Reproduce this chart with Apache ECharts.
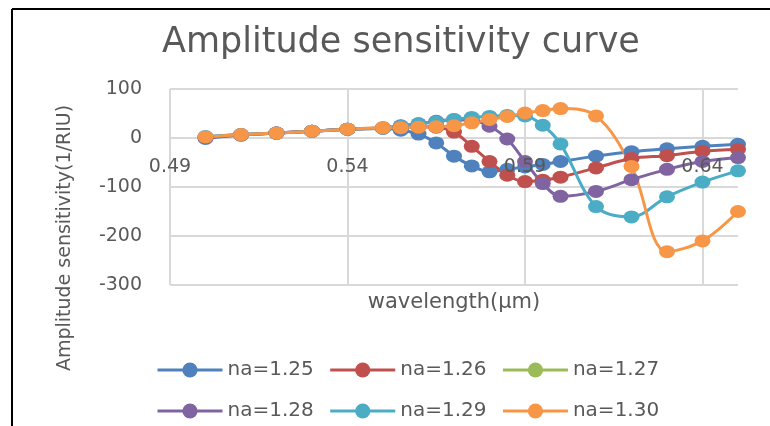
<!DOCTYPE html>
<html>
<head>
<meta charset="utf-8">
<script src="https://cdn.jsdelivr.net/npm/echarts@6/dist/echarts.min.js"></script>
<style>
  html, body { margin: 0; padding: 0; background: #fff; }
  #chart { width: 770px; height: 426px; }
</style>
</head>
<body>
<div id="chart"></div>
<script>
// Wavelength samples (µm)
const wavelength = [0.50, 0.51, 0.52, 0.53, 0.54, 0.55, 0.555, 0.56, 0.565, 0.57, 0.575,
                    0.58, 0.585, 0.59, 0.595, 0.60, 0.61, 0.62, 0.63, 0.64, 0.65];

// Amplitude sensitivity (1/RIU) for each analyte index
const na125 = [-1, 6, 10, 14, 18, 20, 16, 8, -10, -37, -57, -69, -64, -59, -54, -48, -37, -28, -22, -17, -13];
const na126 = [1, 6, 10, 14, 18, 20, 22, 23, 22, 12, -17, -48, -76, -89, -86, -80, -61, -42, -36, -27, -23];
const na127 = [];
const na128 = [2, 7, 10, 14, 18, 21, 25, 29, 34, 37, 36, 24, -2, -48, -93, -119, -109, -85, -64, -48, -40];
const na129 = [3, 7, 10, 14, 18, 20, 24, 29, 33, 38, 42, 44, 46, 45, 26, -12, -140, -161, -120, -90, -67];
const na130 = [2, 7, 10, 14, 18, 21, 21, 22, 23, 25, 31, 38, 44, 51, 56, 60, 45, -58, -232, -210, -150];

const seriesNames = ['na=1.25', 'na=1.26', 'na=1.27', 'na=1.28', 'na=1.29', 'na=1.30'];
const seriesValues = [na125, na126, na127, na128, na129, na130];
const seriesColors = ['#4F81BD', '#C0504D', '#9BBB59', '#8064A2', '#4BACC6', '#F79646'];

// x axis starts at 0.49 with a 0.05 step; values are plotted relative to it
const X0 = 0.49;
const X_MAX = 0.65;
const X_STEP = 0.05;
const Y_MIN = -300, Y_MAX = 100, Y_STEP = 100;

const FONT = 'DejaVu Sans';
const GREY = '#595959';
const GRID_COLOR = '#D9D9D9';

const chart = echarts.init(document.getElementById('chart'));

const series = seriesNames.map((name, k) => ({
  name: name,
  type: 'line',
  xAxisIndex: 0,
  yAxisIndex: 0,
  data: seriesValues[k].map((v, i) => [wavelength[i] - X0, v]),
  smooth: 0.35,
  symbol: 'circle',
  symbolSize: [16, 13],
  lineStyle: { width: 3, color: seriesColors[k] },
  itemStyle: { color: seriesColors[k] },
  emphasis: { disabled: true },
  z: 2
}));

const legendBase = {
  itemWidth: 65,
  itemHeight: 19,
  itemGap: 15,
  lineStyle: { width: 3 },
  textStyle: { fontFamily: FONT, fontSize: 20, color: GREY },
  selectedMode: false
};

chart.setOption({
  animation: false,
  backgroundColor: '#ffffff',
  color: seriesColors,
  title: {
    text: 'Amplitude sensitivity curve',
    left: 157,
    top: 20,
    textStyle: { fontFamily: FONT, fontSize: 35, fontWeight: 'normal', color: GREY }
  },
  legend: [
    Object.assign({}, legendBase, { left: 151, top: 355, data: seriesNames.slice(0, 3) }),
    Object.assign({}, legendBase, { left: 151, top: 396, data: seriesNames.slice(3, 6) })
  ],
  grid: { left: 170, right: 32, top: 89, bottom: 141, containLabel: false, outerBoundsMode: 'none' },
  xAxis: [
    {
      // tick labels sit just under the zero line, on a layer above the curves
      type: 'value',
      position: 'bottom',
      min: 0,
      max: X_MAX - X0,
      interval: X_STEP,
      zlevel: 1,
      z: 10,
      axisLine: { show: false, onZero: false },
      axisTick: { show: false },
      splitLine: { show: false },
      axisLabel: {
        show: true,
        margin: -127,
        showMaxLabel: false,
        fontFamily: FONT,
        fontSize: 19,
        color: GREY,
        formatter: v => (v + X0).toFixed(2)
      },
      name: 'wavelength(μm)',
      nameLocation: 'middle',
      nameGap: 7,
      nameTextStyle: { fontFamily: FONT, fontSize: 21, color: GREY, verticalAlign: 'top' }
    },
    {
      // vertical grid lines
      type: 'value',
      position: 'bottom',
      min: 0,
      max: X_MAX - X0,
      interval: X_STEP,
      z: 0,
      axisLine: { show: false, onZero: false },
      axisTick: { show: false },
      axisLabel: { show: false },
      splitLine: { show: true, showMaxLine: false, lineStyle: { color: GRID_COLOR, width: 2 } }
    }
  ],
  yAxis: {
    type: 'value',
    min: Y_MIN,
    max: Y_MAX,
    interval: Y_STEP,
    axisLine: { show: false, onZero: false },
    axisTick: { show: false },
    splitLine: { show: true, lineStyle: { color: GRID_COLOR, width: 2 } },
    axisLabel: { margin: 28, fontFamily: FONT, fontSize: 19, color: GREY }
  },
  graphic: [
    {
      type: 'text',
      x: 65,
      y: 238,
      rotation: Math.PI / 2,
      style: {
        text: 'Amplitude sensitivity(1/RIU)',
        fontFamily: FONT,
        fontSize: 19,
        fill: GREY,
        align: 'center',
        verticalAlign: 'middle'
      },
      silent: true
    },
    { type: 'line', shape: { x1: 12, y1: 9, x2: 12, y2: 426 }, style: { stroke: '#000', lineWidth: 2 }, silent: true },
    { type: 'line', shape: { x1: 12, y1: 9, x2: 770, y2: 9 }, style: { stroke: '#000', lineWidth: 2 }, silent: true }
  ],
  series: series
});
</script>
</body>
</html>
